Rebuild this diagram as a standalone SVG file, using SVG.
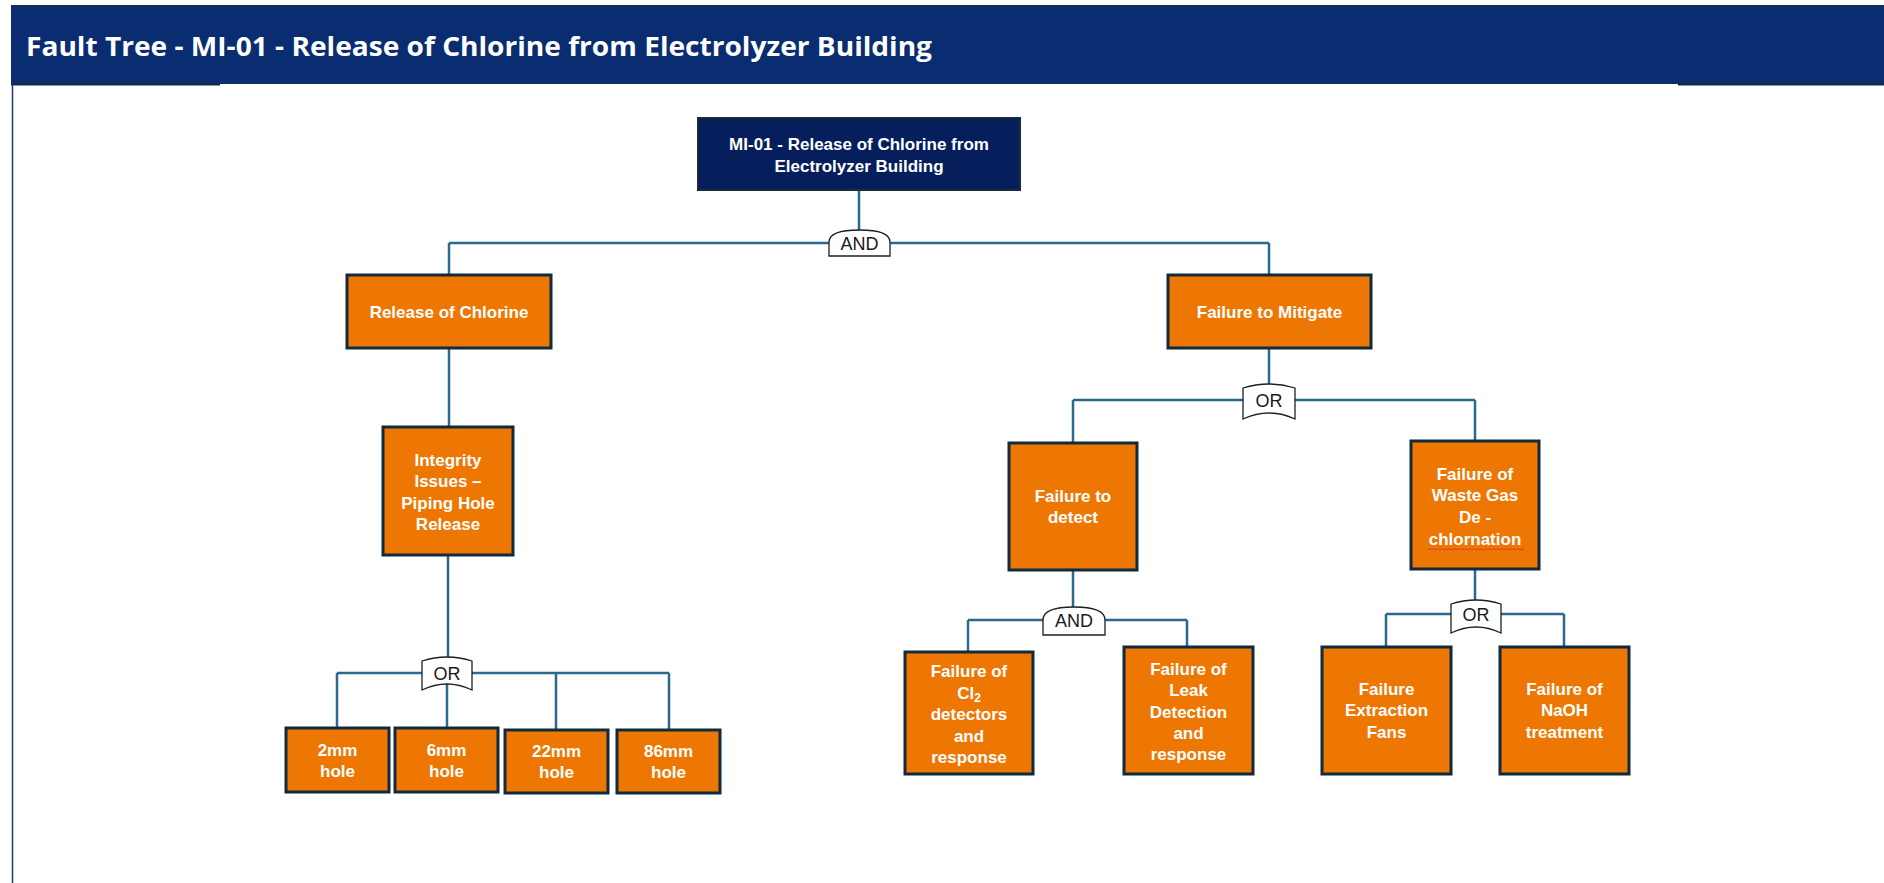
<svg xmlns="http://www.w3.org/2000/svg" width="1884" height="883" viewBox="0 0 1884 883">
  <style>
    .box { fill: #ee7703; stroke: #112a3d; stroke-width: 3; }
    .top { fill: #061f5c; stroke: #1c2a3a; stroke-width: 2; }
    .lbl { font-family: "Liberation Sans", Arial, sans-serif; font-weight: bold; font-size: 17px; fill: #ffffff; text-anchor: middle; }
    .gate { fill: #ffffff; stroke: #1f1f1f; stroke-width: 1.3; }
    .gtxt { font-family: "Liberation Sans", Arial, sans-serif; font-size: 18px; fill: #1a1a1a; text-anchor: middle; }
    .wire { fill: none; stroke: #2a6a8e; stroke-width: 2.5; }
  </style>

  <rect width="1884" height="883" fill="#ffffff"/>

  <!-- page header -->
  <g id="header">
    <rect x="11" y="5" width="1873" height="79" fill="#0a2c70"/>
    <rect x="11" y="5" width="1873" height="1.5" fill="#17304a"/>
    <rect x="11" y="83" width="209" height="2.5" fill="#0f2a45"/>
    <rect x="1678" y="83" width="206" height="2.5" fill="#0f2a45"/>
    <line x1="12.5" y1="84" x2="12.5" y2="883" stroke="#1f3a7a" stroke-width="1.5"/>
    <text x="26" y="56" font-family="'Open Sans', 'Liberation Sans', sans-serif" font-weight="700" font-size="27" fill="#ffffff" textLength="906" lengthAdjust="spacingAndGlyphs">Fault Tree - MI-01 - Release of Chlorine from Electrolyzer Building</text>
  </g>

  <!-- connectors -->
  <g id="connectors">
    <path class="wire" d="M859 190 V243 M449 243 H1269 M449 243 V275 M1269 243 V275"/>
    <path class="wire" d="M449 348 V427"/>
    <path class="wire" d="M448 555 V673 M337 673 H669 M337 673 V728 M447 673 V728 M556 673 V730 M669 673 V730"/>
    <path class="wire" d="M1269 348 V400 M1073 400 H1475 M1475 400 V441"/>
    <path class="wire" d="M1073 400 V443" stroke-width="4"/>
    <path class="wire" d="M1073 570 V620 M968 620 H1187 M968 620 V652 M1187 620 V647"/>
    <path class="wire" d="M1475 569 V614 M1386 614 H1564 M1386 614 V647 M1564 614 V647"/>
  </g>

  <!-- gates -->
  <g id="gate-and-top">
    <path class="gate" d="M829 256 V242 Q829 230 859.5 230 Q890 230 890 242 V256 Z"/>
    <text class="gtxt" x="859.5" y="250">AND</text>
  </g>
  <g id="gate-or-holes">
    <path class="gate" d="M422 661 Q447 653 472 661 V690 Q447 678 422 690 Z"/>
    <text class="gtxt" x="447" y="680">OR</text>
  </g>
  <g id="gate-or-mitigate">
    <path class="gate" d="M1243 388 Q1269 380 1295 388 V419 Q1269 407 1243 419 Z"/>
    <text class="gtxt" x="1269" y="407">OR</text>
  </g>
  <g id="gate-and-detect">
    <path class="gate" d="M1043 635 V620 Q1043 607 1074 607 Q1105 607 1105 620 V635 Z"/>
    <text class="gtxt" x="1074" y="627">AND</text>
  </g>
  <g id="gate-or-dechlor">
    <path class="gate" d="M1451 604 Q1476 596 1501 604 V633 Q1476 621 1451 633 Z"/>
    <text class="gtxt" x="1476" y="621">OR</text>
  </g>

  <!-- events -->
  <g id="mi01">
    <rect class="top" x="698" y="118" width="322" height="72"/>
    <text class="lbl" x="859" y="150">MI-01 - Release of Chlorine from</text>
    <text class="lbl" x="859" y="172">Electrolyzer Building</text>
  </g>
  <g id="release">
    <rect class="box" x="347" y="275" width="204" height="73"/>
    <text class="lbl" x="449" y="318">Release of Chlorine</text>
  </g>
  <g id="mitigate">
    <rect class="box" x="1168" y="275" width="203" height="73"/>
    <text class="lbl" x="1269.5" y="318">Failure to Mitigate</text>
  </g>
  <g id="integrity">
    <rect class="box" x="383" y="427" width="130" height="128"/>
    <text class="lbl" x="448" y="466">Integrity</text>
    <text class="lbl" x="448" y="487">Issues –</text>
    <text class="lbl" x="448" y="509">Piping Hole</text>
    <text class="lbl" x="448" y="530">Release</text>
  </g>
  <g id="detect">
    <rect class="box" x="1009" y="443" width="128" height="127"/>
    <text class="lbl" x="1073" y="502">Failure to</text>
    <text class="lbl" x="1073" y="523">detect</text>
  </g>
  <g id="dechlor">
    <rect class="box" x="1411" y="441" width="128" height="128"/>
    <text class="lbl" x="1475" y="480">Failure of</text>
    <text class="lbl" x="1475" y="501">Waste Gas</text>
    <text class="lbl" x="1475" y="523">De -</text>
    <text class="lbl" x="1475" y="545">chlornation</text>
    <!-- spell-check squiggle under the last word -->
    <path d="M1428 550 l2 -1.5 l2 1.5 l2 -1.5 l2 1.5 l2 -1.5 l2 1.5 l2 -1.5 l2 1.5 l2 -1.5 l2 1.5 l2 -1.5 l2 1.5 l2 -1.5 l2 1.5 l2 -1.5 l2 1.5 l2 -1.5 l2 1.5 l2 -1.5 l2 1.5 l2 -1.5 l2 1.5 l2 -1.5 l2 1.5 l2 -1.5 l2 1.5 l2 -1.5 l2 1.5 l2 -1.5 l2 1.5 l2 -1.5 l2 1.5 l2 -1.5 l2 1.5 l2 -1.5 l2 1.5 l2 -1.5 l2 1.5 l2 -1.5 l2 1.5 l2 -1.5 l2 1.5 l2 -1.5 l2 1.5 l2 -1.5 l2 1.5 l2 -1.5 l2 1.5" fill="none" stroke="#e23a2e" stroke-width="1"/>
  </g>
  <g id="hole-2mm">
    <rect class="box" x="286" y="728" width="103" height="64"/>
    <text class="lbl" x="337.5" y="756">2mm</text>
    <text class="lbl" x="337.5" y="777">hole</text>
  </g>
  <g id="hole-6mm">
    <rect class="box" x="395" y="728" width="103" height="64"/>
    <text class="lbl" x="446.5" y="756">6mm</text>
    <text class="lbl" x="446.5" y="777">hole</text>
  </g>
  <g id="hole-22mm">
    <rect class="box" x="505" y="730" width="103" height="63"/>
    <text class="lbl" x="556.5" y="757">22mm</text>
    <text class="lbl" x="556.5" y="778">hole</text>
  </g>
  <g id="hole-86mm">
    <rect class="box" x="617" y="730" width="103" height="63"/>
    <text class="lbl" x="668.5" y="757">86mm</text>
    <text class="lbl" x="668.5" y="778">hole</text>
  </g>
  <g id="cl2-detectors">
    <rect class="box" x="905" y="652" width="128" height="122"/>
    <text class="lbl" x="969" y="677">Failure of</text>
    <text class="lbl" x="969" y="699">Cl<tspan font-size="12" dy="3">2</tspan></text>
    <text class="lbl" x="969" y="720">detectors</text>
    <text class="lbl" x="969" y="742">and</text>
    <text class="lbl" x="969" y="763">response</text>
  </g>
  <g id="leak-detection">
    <rect class="box" x="1124" y="647" width="129" height="127"/>
    <text class="lbl" x="1188.5" y="675">Failure of</text>
    <text class="lbl" x="1188.5" y="696">Leak</text>
    <text class="lbl" x="1188.5" y="718">Detection</text>
    <text class="lbl" x="1188.5" y="739">and</text>
    <text class="lbl" x="1188.5" y="760">response</text>
  </g>
  <g id="extraction-fans">
    <rect class="box" x="1322" y="647" width="129" height="127"/>
    <text class="lbl" x="1386.5" y="695">Failure</text>
    <text class="lbl" x="1386.5" y="716">Extraction</text>
    <text class="lbl" x="1386.5" y="738">Fans</text>
  </g>
  <g id="naoh">
    <rect class="box" x="1500" y="647" width="129" height="127"/>
    <text class="lbl" x="1564.5" y="695">Failure of</text>
    <text class="lbl" x="1564.5" y="716">NaOH</text>
    <text class="lbl" x="1564.5" y="738">treatment</text>
  </g>
</svg>
